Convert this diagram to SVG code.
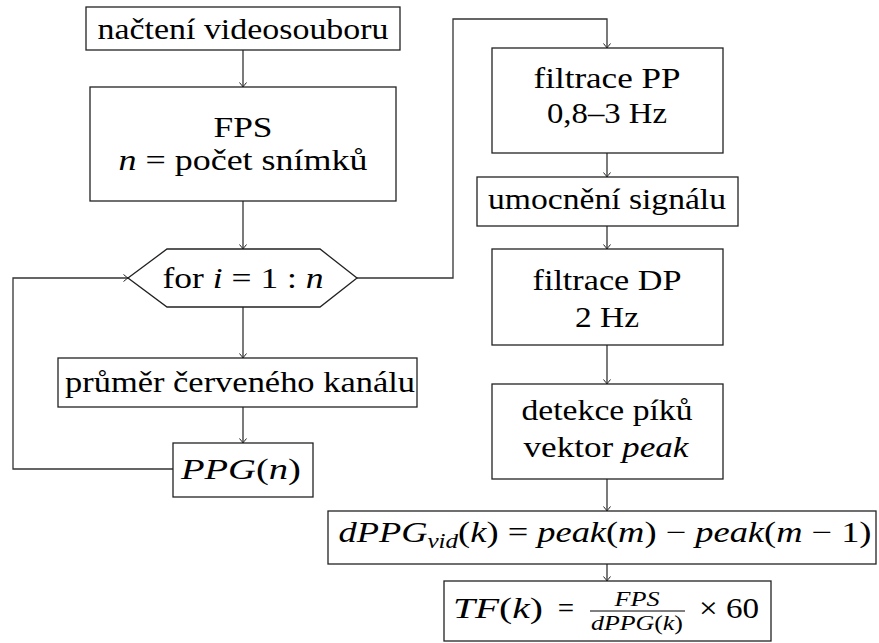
<svg xmlns="http://www.w3.org/2000/svg" width="879" height="643" viewBox="0 0 879 643">
<style>
  .box{fill:#fff;stroke:#222;stroke-width:1.3}
  .t{font-size:29px}
  .ts{font-size:20px}
  .i{font-style:italic}
  .c{fill:none;stroke:#333;stroke-width:1.3}
</style>
<defs>
  <marker id="arr" markerWidth="10" markerHeight="10" refX="0" refY="0" viewBox="-6 -5 8 10" orient="auto" markerUnits="userSpaceOnUse">
    <path d="M -4.5,-3.5 Q -1,-0.6 0,0 Q -1,0.6 -4.5,3.5" fill="none" stroke="#222" stroke-width="1"/>
  </marker>
</defs>
<rect width="879" height="643" fill="#fff"/>
<g id="connectors">
  <path class="c" d="M243,50 V87" marker-end="url(#arr)"/>
  <path class="c" d="M243,201 V249" marker-end="url(#arr)"/>
  <path class="c" d="M243,307 V358" marker-end="url(#arr)"/>
  <path class="c" d="M243,407 V443" marker-end="url(#arr)"/>
  <path class="c" d="M173,469 H13 V278 H128" marker-end="url(#arr)"/>
  <path class="c" d="M357,278 H453 V19 H607 V48" marker-end="url(#arr)"/>
  <path class="c" d="M607,153 V177" marker-end="url(#arr)"/>
  <path class="c" d="M607,226 V249" marker-end="url(#arr)"/>
  <path class="c" d="M607,345 V384" marker-end="url(#arr)"/>
  <path class="c" d="M607,479 V511" marker-end="url(#arr)"/>
  <path class="c" d="M607,564 V581" marker-end="url(#arr)"/>
</g>
<g id="nodes" font-family="Liberation Serif, DejaVu Serif, serif" text-anchor="middle" fill="#000">
<g id="nacteni">
  <rect class="box" x="86" y="7" width="314" height="43"/>
  <text class="t" x="243" y="39" textLength="291" lengthAdjust="spacingAndGlyphs">načtení videosouboru</text>
</g>
<g id="fps">
  <rect class="box" x="90" y="87" width="306" height="114"/>
  <text class="t" x="243" y="137" textLength="59" lengthAdjust="spacingAndGlyphs">FPS</text>
  <text class="t" x="243" y="170" textLength="249" lengthAdjust="spacingAndGlyphs"><tspan class="i">n</tspan> = počet snímků</text>
</g>
<g id="for">
  <polygon class="box" points="128,278 167,249 320,249 357,278 320,307 167,307"/>
  <text class="t" x="243" y="288" textLength="161" lengthAdjust="spacingAndGlyphs">for <tspan class="i">i</tspan> = 1 : <tspan class="i">n</tspan></text>
</g>
<g id="prumer">
  <rect class="box" x="58" y="358" width="359" height="49"/>
  <text class="t" x="240" y="392" textLength="350" lengthAdjust="spacingAndGlyphs">průměr červeného kanálu</text>
</g>
<g id="ppg">
  <rect class="box" x="173" y="443" width="140" height="54"/>
  <text class="t" x="241" y="479" textLength="120" lengthAdjust="spacingAndGlyphs"><tspan class="i">PPG</tspan>(<tspan class="i">n</tspan>)</text>
</g>
<g id="filtracePP">
  <rect class="box" x="492" y="48" width="231" height="105"/>
  <text class="t" x="607" y="88" textLength="147" lengthAdjust="spacingAndGlyphs">filtrace PP</text>
  <text class="t" x="607" y="123" textLength="120" lengthAdjust="spacingAndGlyphs">0,8–3 Hz</text>
</g>
<g id="umocneni">
  <rect class="box" x="477" y="177" width="261" height="49"/>
  <text class="t" x="607" y="209" textLength="238" lengthAdjust="spacingAndGlyphs">umocnění signálu</text>
</g>
<g id="filtraceDP">
  <rect class="box" x="492" y="249" width="231" height="96"/>
  <text class="t" x="607" y="290" textLength="149" lengthAdjust="spacingAndGlyphs">filtrace DP</text>
  <text class="t" x="607" y="327" textLength="64" lengthAdjust="spacingAndGlyphs">2 Hz</text>
</g>
<g id="detekce">
  <rect class="box" x="492" y="384" width="231" height="95"/>
  <text class="t" x="607" y="420" textLength="171" lengthAdjust="spacingAndGlyphs">detekce píků</text>
  <text class="t" x="606" y="457" textLength="165" lengthAdjust="spacingAndGlyphs">vektor <tspan class="i">peak</tspan></text>
</g>
<g id="dppg">
  <rect class="box" x="328" y="511" width="548" height="53"/>
  <text class="t" x="605" y="542" textLength="533" lengthAdjust="spacingAndGlyphs"><tspan class="i">dPPG</tspan><tspan class="i" font-size="20" dy="6">vid</tspan><tspan dy="-6">(</tspan><tspan class="i">k</tspan>) = <tspan class="i">peak</tspan>(<tspan class="i">m</tspan>) − <tspan class="i">peak</tspan>(<tspan class="i">m</tspan> − 1)</text>
</g>
<g id="tf">
  <rect class="box" x="444" y="581" width="327" height="60"/>
  <text class="t" x="498" y="618" textLength="90" lengthAdjust="spacingAndGlyphs"><tspan class="i">TF</tspan>(<tspan class="i">k</tspan>)</text>
  <text class="t" x="566" y="618">=</text>
  <text class="ts i" x="637" y="606" textLength="45" lengthAdjust="spacingAndGlyphs">FPS</text>
  <line x1="590" y1="611" x2="685" y2="611" stroke="#000" stroke-width="1"/>
  <text class="ts" x="637" y="630" textLength="92" lengthAdjust="spacingAndGlyphs"><tspan class="i">dPPG</tspan>(<tspan class="i">k</tspan>)</text>
  <text class="t" x="729" y="618" textLength="60" lengthAdjust="spacingAndGlyphs">× 60</text>
</g>
</g>
</svg>
